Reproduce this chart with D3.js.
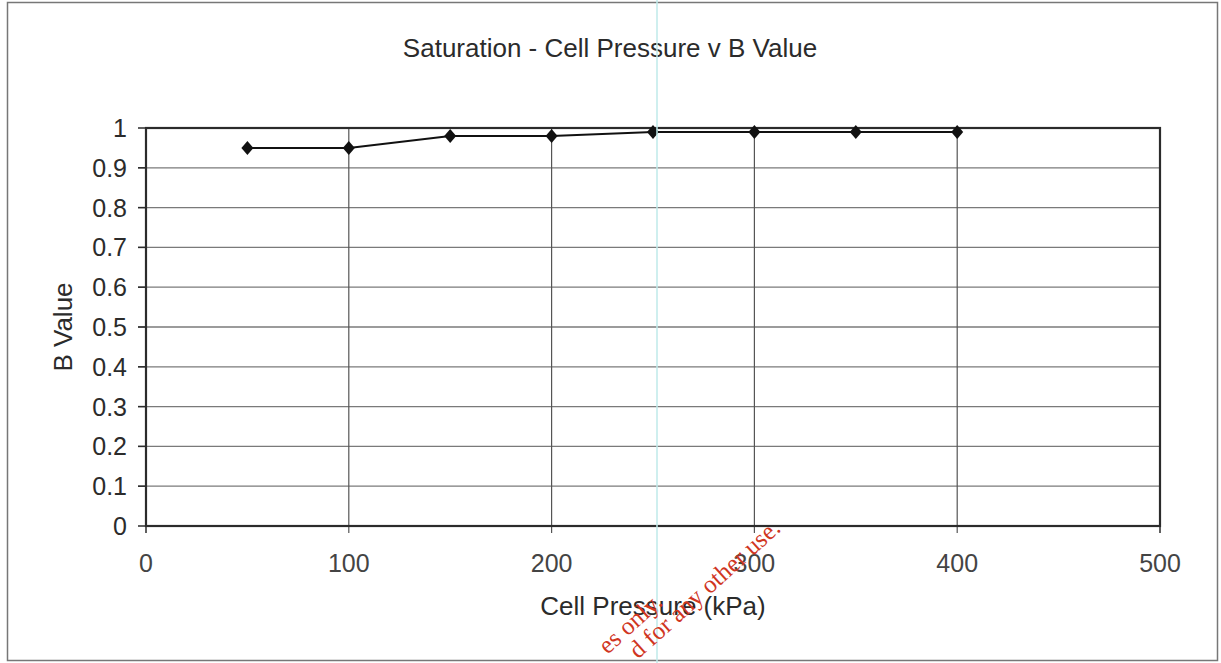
<!DOCTYPE html>
<html><head><meta charset="utf-8">
<script src="https://cdn.jsdelivr.net/npm/d3@7"></script>
<style>
html,body{margin:0;padding:0;background:#fff;overflow:hidden;}
svg{display:block;}
text{font-family:"Liberation Sans",Arial,sans-serif;}
text.wm{font-family:"Liberation Serif","Times New Roman",serif;}
</style></head>
<body>
<svg id="c" width="1221" height="663"></svg>
<script>
const pressures = [50, 100, 150, 200, 250, 300, 350, 400];
const bValues   = [0.95, 0.95, 0.98, 0.98, 0.99, 0.99, 0.99, 0.99];
const xTicks = [0, 100, 200, 300, 400, 500];
const yTicks = [0, 0.1, 0.2, 0.3, 0.4, 0.5, 0.6, 0.7, 0.8, 0.9, 1];
const titleText = "Saturation - Cell Pressure v B Value";
const xLabel = "Cell Pressure (kPa)";
const yLabel = "B Value";
const watermark = ["es only.", "d for any other use."];

const svg = d3.select("#c");
const W = 1221, H = 663;
const L = 146, R = 1160, T = 128, B = 526;
const x = d3.scaleLinear().domain([0, 500]).range([L, R]);
const y = d3.scaleLinear().domain([0, 1]).range([B, T]);
const ink = "#2b2b2b";

// outer frame
svg.append("rect").attr("x", 7.5).attr("y", 2.5).attr("width", 1210).attr("height", 658)
  .attr("fill", "#fff").attr("stroke", "#777").attr("stroke-width", 1.5);

// horizontal gridlines
svg.append("g").selectAll("line").data(yTicks.filter(d => d > 0 && d < 1)).join("line")
  .attr("x1", L - 8).attr("x2", R).attr("y1", d => y(d)).attr("y2", d => y(d))
  .attr("stroke", "#7a7a7a").attr("stroke-width", 1.3);

// vertical gridlines
svg.append("g").selectAll("line").data(xTicks.filter(d => d > 0 && d < 500)).join("line")
  .attr("x1", d => x(d)).attr("x2", d => x(d)).attr("y1", T).attr("y2", B + 7)
  .attr("stroke", "#555").attr("stroke-width", 1.2);

// y ticks
svg.append("g").selectAll("line").data(yTicks).join("line")
  .attr("x1", L - 8).attr("x2", L).attr("y1", d => y(d)).attr("y2", d => y(d))
  .attr("stroke", ink).attr("stroke-width", 1.5);
// x ticks at ends
svg.append("g").selectAll("line").data([0, 500]).join("line")
  .attr("x1", d => x(d)).attr("x2", d => x(d)).attr("y1", B).attr("y2", B + 7)
  .attr("stroke", ink).attr("stroke-width", 1.5);

// plot box
svg.append("rect").attr("x", L).attr("y", T).attr("width", R - L).attr("height", B - T)
  .attr("fill", "none").attr("stroke", ink).attr("stroke-width", 2.2);

// y tick labels
svg.append("g").selectAll("text").data(yTicks).join("text")
  .attr("x", 127).attr("y", d => y(d)).attr("dy", "0.36em")
  .attr("text-anchor", "end").attr("font-size", 25).attr("fill", ink)
  .text(d => d3.format("~g")(d));

// x tick labels
svg.append("g").selectAll("text").data(xTicks).join("text")
  .attr("x", d => x(d)).attr("y", 572)
  .attr("text-anchor", "middle").attr("font-size", 25).attr("fill", "#444")
  .text(d => d);

// line
svg.append("path").datum(pressures.map((p, i) => [p, bValues[i]]))
  .attr("d", d3.line().x(d => x(d[0])).y(d => y(d[1])))
  .attr("fill", "none").attr("stroke", "#111").attr("stroke-width", 2);

// markers
svg.append("g").selectAll("path").data(pressures.map((p, i) => [p, bValues[i]])).join("path")
  .attr("transform", d => `translate(${x(d[0])},${y(d[1])})`)
  .attr("d", "M0,-7L6,0L0,7L-6,0Z").attr("fill", "#111");

// titles
svg.append("text").attr("x", 610).attr("y", 57).attr("text-anchor", "middle")
  .attr("font-size", 26).attr("fill", ink).text(titleText);
svg.append("text").attr("x", 653).attr("y", 615).attr("text-anchor", "middle")
  .attr("font-size", 26).attr("fill", ink).text(xLabel);
svg.append("text").attr("transform", "translate(72,327) rotate(-90)").attr("text-anchor", "middle")
  .attr("font-size", 26).attr("fill", ink).text(yLabel);

// scan artifact line
svg.append("line").attr("x1", 657).attr("x2", 657).attr("y1", 0).attr("y2", H)
  .attr("stroke", "#bfeaea").attr("stroke-width", 1.5);

// watermark
const wm = svg.append("g");
wm.append("text").attr("class", "wm").attr("font-size", 25).attr("fill", "#d0361f")
  .attr("transform", "translate(664,604) rotate(-42)").attr("text-anchor", "end").text(watermark[0]);
wm.append("text").attr("class", "wm").attr("font-size", 25).attr("fill", "#d0361f")
  .attr("transform", "translate(782,530) rotate(-42)").attr("text-anchor", "end").text(watermark[1]);
</script>
</body></html>
